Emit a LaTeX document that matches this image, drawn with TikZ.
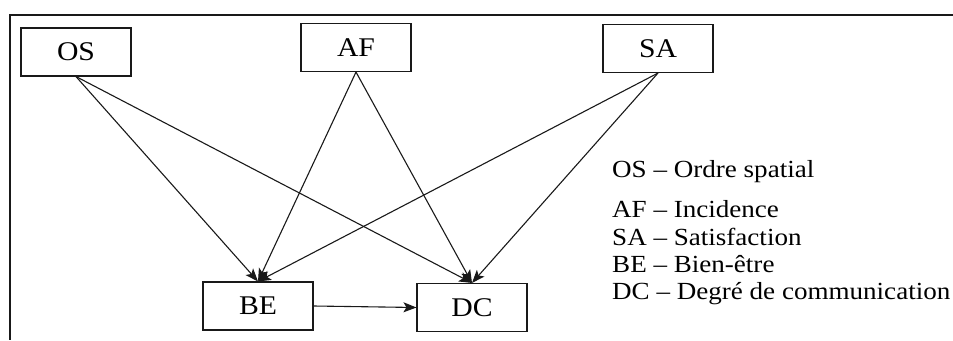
\documentclass[tikz,border=0pt]{standalone}
\usepackage{fontspec}
\setmainfont{Liberation Serif}[FakeStretch=1.1]
\usepackage{tikz}
\usetikzlibrary{arrows.meta, positioning}
\definecolor{LineColor}{RGB}{25,25,25}
\tikzstyle{arrow} = [line width=1.1pt, LineColor, -{Stealth[length=13pt, width=10pt, inset=3pt]}]
\tikzstyle{frame} = [line width=1.4pt, LineColor]
\tikzset{
  varbox/.style={draw=LineColor, line width=1.1pt, rectangle, minimum width=110pt, minimum height=48pt, inner sep=0pt, font=\fontsize{27}{31}\selectfont},
  legend/.style={anchor=base west, inner sep=0pt, font=\fontsize{24.6}{29}\selectfont}
}
\begin{document}
\begin{tikzpicture}[x=1pt, y=-1pt]
  \useasboundingbox (0,0) rectangle (953,340);
  % Frame
  \draw[frame] (953,15) -- (10,15) -- (10,340);

  % Variables
  \node[varbox] (os) at (76,52) {OS};
  \node[varbox] (af) at (356,47.5) {AF};
  \node[varbox] (sa) at (658,48.5) {SA};
  \node[varbox] (be) at (258,306) {BE};
  \node[varbox] (dc) at (472,307.5) {DC};

  % Paths
  \draw[arrow] (os.south) -- (be.north);
  \draw[arrow] (os.south) -- (dc.north);
  \draw[arrow] (af.south) -- (be.north);
  \draw[arrow] (af.south) -- (dc.north);
  \draw[arrow] (sa.south) -- (be.north);
  \draw[arrow] (sa.south) -- (dc.north);
  \draw[arrow] (be.east) -- (dc.west);

  % Legend
  \node[legend] (l1) at (612,177) {OS -- Ordre spatial};
  \node[legend] (l2) at (612,217) {AF -- Incidence};
  \node[legend] (l3) at (612,245) {SA -- Satisfaction};
  \node[legend] (l4) at (612,272) {BE -- Bien-être};
  \node[legend] (l5) at (612,299) {DC -- Degré de communication};
\end{tikzpicture}
\end{document}
